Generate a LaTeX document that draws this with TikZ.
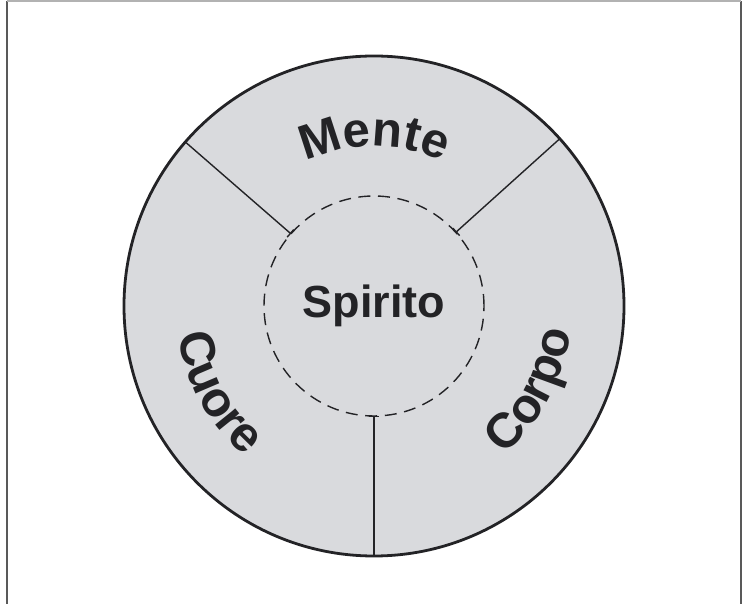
\documentclass[tikz,border=0pt]{standalone}
\usepackage{fontspec}
\setmainfont{Liberation Sans}
\usetikzlibrary{arrows.meta, decorations.text}
\definecolor{discgray}{RGB}{217,218,221}
\definecolor{inkgray}{RGB}{35,35,38}
\newcommand{\arcfont}{\fontsize{24.5}{24.5}\selectfont\bfseries}

\begin{document}
\begin{tikzpicture}[
  x=1pt, y=1pt,
  disc/.style={circle, draw=inkgray, line width=1.4pt, fill=discgray,
               minimum size=250pt, inner sep=0pt, outer sep=0pt},
  core/.style={circle, draw=inkgray, dash pattern=on 6pt off 3.8pt, line width=0.7pt,
               minimum size=110pt, inner sep=0pt, outer sep=0pt,
               font=\fontsize{22.5}{22.5}\selectfont\bfseries, text=inkgray},
  divider/.style={{Bar[width=5pt]}-, line width=0.7pt, draw=inkgray},
  arclab/.style={decorate, decoration={text along path, text align=center,
                 text color=inkgray, text={|\arcfont|#1}}}
]
\useasboundingbox (-187,-149) rectangle (184.5,153);
\draw[line width=0.8pt, gray!70!black] (-183.5,-150) -- (-183.5,152.5);
\draw[line width=0.8pt, gray!70!black] (183.5,-150) -- (183.5,152.5);
\draw[line width=0.6pt, gray!60] (-183.5,152.5) -- (183.5,152.5);

\node[disc] (disc) at (0,0) {};
\node[core] (core) at (0,0) {Spirito};

\draw[divider] (core.139) -- (disc.139);
\draw[divider] (core.42.5) -- (disc.42.5);
\draw[divider] (core.270) -- (disc.270);

\path[arclab=Mente] (130:80) arc[start angle=130, end angle=50, radius=80];
\path[arclab=Cuore] (179:99) arc[start angle=179, end angle=239, radius=99];
\path[arclab=Corpo] (302:99) arc[start angle=302, end angle=362, radius=99];
\end{tikzpicture}
\end{document}
